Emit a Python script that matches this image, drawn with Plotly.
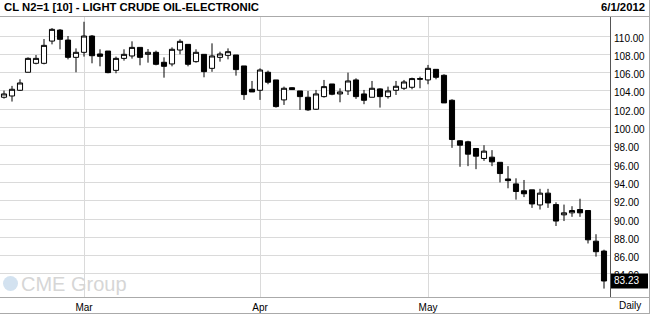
import plotly.graph_objects as go

dates = (
    ["2012-02-%02d" % d for d in [15, 16, 17, 21, 22, 23, 24, 27, 28, 29]]
    + ["2012-03-%02d" % d for d in [1, 2, 5, 6, 7, 8, 9, 12, 13, 14, 15, 16, 19, 20, 21, 22, 23, 26, 27, 28, 29, 30]]
    + ["2012-04-%02d" % d for d in [2, 3, 4, 5, 6, 9, 10, 11, 12, 13, 16, 17, 18, 19, 20, 23, 24, 25, 26, 27, 30]]
    + ["2012-05-%02d" % d for d in [1, 2, 3, 4, 7, 8, 9, 10, 11, 14, 15, 16, 17, 18, 21, 22, 23, 24, 25, 29, 30, 31]]
    + ["2012-06-01"]
)

opens = [103.31, 103.45, 104.07, 106.04, 107.02, 107.02, 109.45, 110.65, 109.56, 107.67,
         108.22, 110.0, 108.04, 108.36, 106.25, 107.56, 107.82, 108.76, 108.0, 108.22,
         107.13, 106.95, 108.47, 109.09, 107.2, 108.0, 106.47, 107.67, 107.89, 107.93,
         106.73, 104.18, 104.07, 106.04, 105.2, 103.02, 104.35, 104.0, 103.31, 102.0,
         103.38, 104.76, 103.67, 104.0, 105.2, 103.67, 103.31, 104.22, 103.38, 104.07,
         104.29, 104.4, 105.35, 105.2, 106.36, 105.71, 102.98, 98.55, 98.44, 97.71,
         96.62, 96.76, 96.2, 94.38, 93.84, 93.09, 93.19, 91.54, 92.83, 91.58,
         90.46, 90.68, 91.04, 90.93, 87.58, 86.5]
highs = [104.04, 104.55, 105.27, 107.67, 107.93, 109.67, 110.87, 110.76, 110.0, 108.65,
         111.56, 110.11, 108.55, 108.36, 107.75, 108.55, 109.42, 108.76, 108.58, 108.4,
         107.67, 108.76, 109.64, 109.09, 108.55, 108.0, 109.2, 108.29, 108.65, 107.93,
         106.73, 105.09, 106.47, 106.22, 105.2, 104.47, 104.4, 104.0, 104.0, 104.11,
         105.2, 104.76, 104.29, 106.0, 105.38, 104.11, 105.09, 104.29, 104.47, 105.09,
         105.2, 105.45, 105.56, 106.84, 106.36, 105.82, 103.09, 98.62, 98.55, 97.71,
         98.07, 97.53, 96.2, 95.78, 94.45, 94.27, 93.19, 93.3, 93.3, 91.83,
         91.58, 91.4, 92.22, 90.93, 88.34, 86.65]
lows = [103.16, 102.84, 104.0, 106.04, 106.91, 106.91, 109.09, 108.55, 107.45, 106.04,
        107.75, 107.02, 106.69, 105.93, 105.93, 107.31, 107.53, 106.8, 107.09, 106.8,
        105.45, 106.69, 108.0, 106.69, 107.09, 105.49, 106.09, 107.2, 107.45, 105.67,
        103.02, 103.89, 103.02, 104.73, 102.18, 102.47, 104.1, 101.93, 101.82, 101.93,
        103.27, 103.53, 102.76, 103.56, 103.13, 102.55, 103.31, 102.18, 103.16, 103.56,
        104.11, 104.18, 104.29, 104.73, 105.27, 102.69, 97.78, 95.71, 95.78, 95.45,
        96.36, 95.78, 94.0, 93.36, 92.12, 92.4, 91.22, 91.04, 91.22, 89.24,
        89.78, 90.24, 90.24, 87.33, 85.89, 82.4]
closes = [103.67, 104.18, 104.87, 107.56, 107.56, 108.98, 110.73, 109.64, 107.67, 108.22,
          110.0, 107.85, 107.78, 106.0, 107.56, 108.0, 108.76, 107.67, 108.22, 106.91,
          106.69, 108.55, 109.42, 106.91, 108.22, 106.11, 107.82, 108.04, 108.29, 106.33,
          103.6, 103.89, 106.29, 104.95, 102.29, 104.29, 104.15, 103.38, 101.93, 103.67,
          104.47, 103.64, 103.89, 105.09, 103.38, 102.98, 104.29, 103.38, 104.0, 104.51,
          104.98, 105.35, 105.29, 106.47, 105.49, 102.69, 98.69, 98.07, 97.09, 96.87,
          97.42, 96.25, 94.97, 94.2, 93.01, 92.76, 91.65, 92.83, 91.76, 89.78,
          90.68, 90.93, 90.68, 87.73, 86.43, 83.23]

month_ticks = ["2012-03-01", "2012-04-02", "2012-05-01"]
month_labels = ["Mar", "Apr", "May"]
price_ticks = [84, 86, 88, 90, 92, 94, 96, 98, 100, 102, 104, 106, 108, 110]
last_price = closes[-1]
title_text = "CL N2=1 [10] - LIGHT CRUDE OIL-ELECTRONIC"
date_text = "6/1/2012"

# layout geometry (pixels)
W, H = 650, 314
PL, PR, PT, PB = 0, 610, 17, 297
pw, ph = PR - PL, PB - PT


def px(xp):
    return (xp - PL) / pw


def py(yp):
    return (PB - yp) / ph


fig = go.Figure(go.Candlestick(
    x=dates, open=opens, high=highs, low=lows, close=closes,
    increasing=dict(line=dict(color="black", width=1), fillcolor="white"),
    decreasing=dict(line=dict(color="black", width=1), fillcolor="black"),
    whiskerwidth=0,
    hoverinfo="x+y",
))

font_main = "Liberation Sans, Arial, sans-serif"

fig.update_layout(
    width=W, height=H,
    margin=dict(l=PL, r=W - PR, t=PT, b=H - PB, pad=0),
    paper_bgcolor="white", plot_bgcolor="white",
    showlegend=False,
    boxgap=0.2, boxgroupgap=0.2,
    font=dict(family=font_main, size=10, color="black"),
    xaxis=dict(
        type="category", range=[-0.5, 75.75],
        rangeslider=dict(visible=False),
        tickvals=month_ticks, ticktext=month_labels,
        showgrid=True, gridcolor="#dadada", gridwidth=1,
        showline=False, zeroline=False, ticks="", ticklabelstandoff=3,
        tickfont=dict(size=10, family=font_main, color="black"),
    ),
    yaxis=dict(
        side="right", range=[81.48, 112.08],
        tickvals=price_ticks, ticktext=["%.2f" % v for v in price_ticks],
        showgrid=True, gridcolor="#dadada", gridwidth=1,
        showline=True, linecolor="#555555", linewidth=1,
        zeroline=False, ticks="", ticklabelshift=2, ticklabelstandoff=1,
        tickfont=dict(size=10, family=font_main, color="black"),
    ),
)

shapes = [
    # bottom axis line across full width
    dict(type="line", xref="paper", yref="paper", x0=0, x1=px(650), y0=py(297.5), y1=py(297.5),
         line=dict(color="#aaaaaa", width=1), layer="above"),
    # bottom border
    dict(type="line", xref="paper", yref="paper", x0=0, x1=px(650), y0=py(313.5), y1=py(313.5),
         line=dict(color="#aaaaaa", width=1), layer="above"),
    # title separator
    dict(type="line", xref="paper", yref="paper", x0=0, x1=px(650), y0=py(16.5), y1=py(16.5),
         line=dict(color="#aaaaaa", width=1), layer="above"),
    # right border
    dict(type="line", xref="paper", yref="paper", x0=px(649.5), x1=px(649.5), y0=py(0), y1=py(314),
         line=dict(color="#aaaaaa", width=1), layer="above"),
    # last price box
    dict(type="rect", xref="paper", yref="y", x0=px(611), x1=px(648),
         y0=last_price - 0.82, y1=last_price + 0.82,
         fillcolor="black", line=dict(width=0), layer="above"),
    # watermark globe
    dict(type="circle", xref="paper", yref="paper", x0=px(3), x1=px(18), y0=py(291), y1=py(276),
         fillcolor="#d3e2f0", line=dict(width=0), layer="below"),
]
fig.update_layout(shapes=shapes)

annotations = [
    dict(text="<b>%s</b>" % title_text, xref="paper", yref="paper", x=px(2), y=py(7.5),
         xanchor="left", yanchor="middle", showarrow=False,
         font=dict(family=font_main, size=11.3, color="black")),
    dict(text="<b>%s</b>" % date_text, xref="paper", yref="paper", x=px(647), y=py(7.5),
         xanchor="right", yanchor="middle", showarrow=False,
         font=dict(family=font_main, size=11.3, color="black")),
    dict(text="%.2f" % last_price, xref="paper", yref="y", x=px(612), y=last_price,
         xanchor="left", yanchor="middle", showarrow=False,
         font=dict(family=font_main, size=10, color="white")),
    dict(text="Daily", xref="paper", yref="paper", x=px(630), y=py(305.5),
         xanchor="center", yanchor="middle", showarrow=False,
         font=dict(family=font_main, size=10, color="black")),
    dict(text="CME Group", xref="paper", yref="paper", x=px(19), y=py(283.5),
         xanchor="left", yanchor="middle", showarrow=False,
         font=dict(family=font_main, size=20, color="#d6d6d6")),
]
fig.update_layout(annotations=annotations)

fig.write_html("out.html")
